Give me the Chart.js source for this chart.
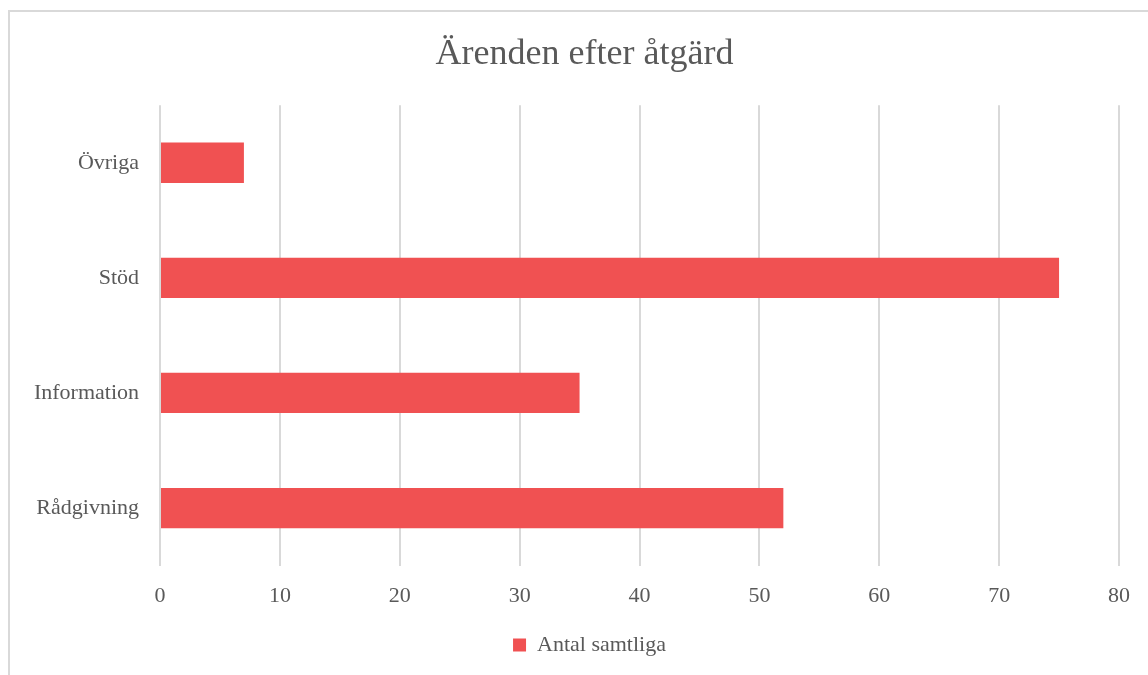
<!DOCTYPE html>
<html>
<head>
<meta charset="utf-8">
<script src="https://cdn.jsdelivr.net/npm/chart.js@4/dist/chart.umd.min.js"></script>
<style>
  html, body { margin: 0; padding: 0; background: #fff; overflow: hidden; }
  #frame {
    position: absolute; left: 8px; top: 10px;
    width: 1200px; height: 720px;
    border: 2px solid #d9d9d9; box-sizing: border-box;
  }
  #wrap { position: absolute; left: 0; top: 0; width: 1148px; height: 675px; }
</style>
</head>
<body>
<div id="frame"></div>
<div id="wrap"><canvas id="chart" width="1148" height="675"></canvas></div>
<script>
const categories = ['Övriga', 'Stöd', 'Information', 'Rådgivning'];
const antalSamtliga = [7, 75, 35, 52];
const xTicks = [0, 10, 20, 30, 40, 50, 60, 70, 80];

const textColor = '#595959';
const serif = "'Liberation Serif', 'Times New Roman', serif";

// title and legend are centred on the whole frame, not only the area right of the y labels
const centreBlocks = {
  id: 'centreBlocks',
  afterLayout(chart) {
    if (chart.titleBlock) chart.titleBlock.left = 50;
    if (chart.legend) chart.legend.left = 60;
  }
};

new Chart(document.getElementById('chart'), {
  type: 'bar',
  data: {
    labels: categories,
    datasets: [
      {
        label: 'Antal samtliga',
        data: antalSamtliga,
        backgroundColor: '#f05152',
        borderWidth: 0,
        barPercentage: 0.35,
        categoryPercentage: 1
      }
    ]
  },
  options: {
    indexAxis: 'y',
    responsive: false,
    animation: false,
    layout: { padding: { left: 20, right: 29, top: 0, bottom: 9 } },
    plugins: {
      title: {
        display: true,
        text: 'Ärenden efter åtgärd',
        color: textColor,
        font: { family: serif, size: 36, weight: 'normal' },
        padding: { top: 33, bottom: 29 }
      },
      legend: {
        position: 'bottom',
        labels: {
          color: textColor,
          font: { family: serif, size: 22 },
          boxWidth: 13,
          boxHeight: 13,
          padding: 12
        }
      },
      tooltip: { enabled: false }
    },
    scales: {
      x: {
        min: xTicks[0],
        max: xTicks[xTicks.length - 1],
        afterBuildTicks: (axis) => { axis.ticks = xTicks.map(v => ({ value: v })); },
        afterFit: (axis) => { axis.height -= 4; },
        grid: { color: '#d9d9d9', lineWidth: 2, drawTicks: false },
        border: { display: false },
        ticks: { color: textColor, font: { family: serif, size: 22 }, padding: 17 }
      },
      y: {
        afterFit: (axis) => { axis.width = 140; },
        grid: { display: false, drawTicks: false },
        border: { display: false },
        ticks: { color: textColor, font: { family: serif, size: 22 }, padding: 21 }
      }
    }
  },
  plugins: [centreBlocks]
});
</script>
</body>
</html>
